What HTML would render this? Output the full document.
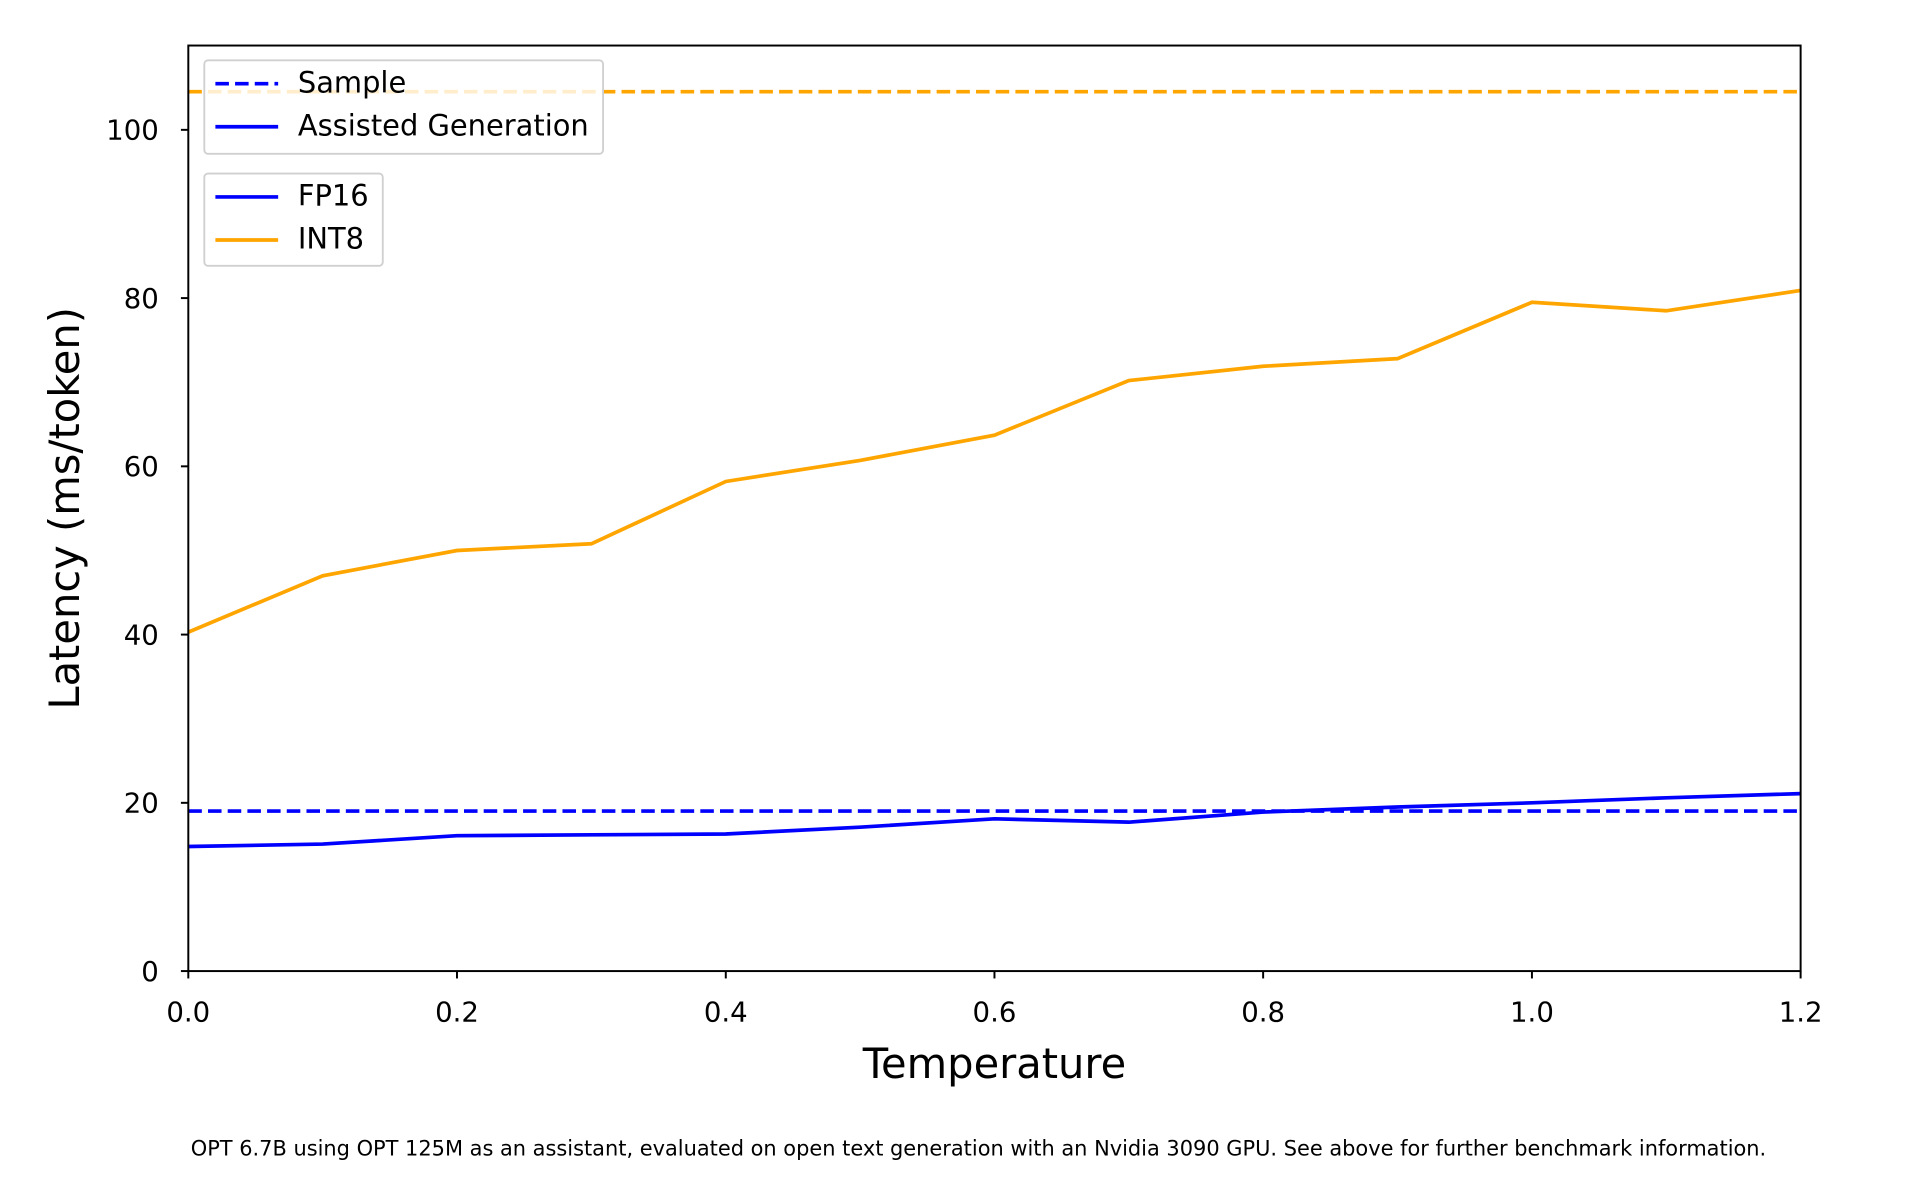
<!DOCTYPE html>
<html><head><meta charset="utf-8"><style>html,body{margin:0;padding:0;background:#fff;width:1920px;height:1200px;overflow:hidden}</style></head>
<body>
<svg width="1920" height="1200" viewBox="0 0 1560 975" xmlns="http://www.w3.org/2000/svg" font-family="'DejaVu Sans','Liberation Sans',sans-serif">
<rect width="1560" height="975" fill="#fff"/>
<defs><clipPath id="c"><rect x="153" y="37" width="1310" height="752"/></clipPath></defs>
<g clip-path="url(#c)" fill="none" stroke-width="3">
<line x1="153" y1="74.5" x2="1463" y2="74.5" stroke="#ffa500" stroke-dasharray="11,5"/>
<line x1="153" y1="659" x2="1463" y2="659" stroke="#0000ff" stroke-dasharray="11,5"/>
<polyline stroke="#0000ff" points="153,687.8 262.2,685.8 371.3,679 480.5,678.3 589.7,677.6 698.8,672.1 808,665.3 917.2,668 1026.3,659.8 1135.5,655.7 1244.7,652.3 1353.8,648.2 1463,644.8"/>
<polyline stroke="#ffa500" points="153,513.6 262.2,467.8 371.3,447.3 480.5,441.8 589.7,391.2 698.8,374.1 808,353.6 917.2,309.2 1026.3,297.6 1135.5,291.4 1244.7,245.6 1353.8,252.5 1463,236"/>
</g>
<rect x="153" y="37" width="1310" height="752" fill="none" stroke="#000" stroke-width="1.6"/>
<g stroke="#000" stroke-width="1.6">
<line x1="153" y1="789" x2="153" y2="795"/><line x1="371.3" y1="789" x2="371.3" y2="795"/><line x1="589.7" y1="789" x2="589.7" y2="795"/><line x1="808" y1="789" x2="808" y2="795"/><line x1="1026.3" y1="789" x2="1026.3" y2="795"/><line x1="1244.7" y1="789" x2="1244.7" y2="795"/><line x1="1463" y1="789" x2="1463" y2="795"/>
<line x1="147" y1="789" x2="153" y2="789"/><line x1="147" y1="652.3" x2="153" y2="652.3"/><line x1="147" y1="515.6" x2="153" y2="515.6"/><line x1="147" y1="378.9" x2="153" y2="378.9"/><line x1="147" y1="242.2" x2="153" y2="242.2"/><line x1="147" y1="105.5" x2="153" y2="105.5"/>
</g>
<g font-size="22.4" fill="#000" text-anchor="middle">
<text x="153" y="830">0.0</text><text x="371.3" y="830">0.2</text><text x="589.7" y="830">0.4</text><text x="808" y="830">0.6</text><text x="1026.3" y="830">0.8</text><text x="1244.7" y="830">1.0</text><text x="1463" y="830">1.2</text>
</g>
<g font-size="22.4" fill="#000" text-anchor="end">
<text x="129" y="797">0</text><text x="129" y="660.3">20</text><text x="129" y="523.6">40</text><text x="129" y="386.9">60</text><text x="129" y="250.2">80</text><text x="129" y="113.5">100</text>
</g>
<text x="808" y="876" font-size="33.8" text-anchor="middle">Temperature</text>
<text transform="translate(64,413) rotate(-90)" font-size="33.8" text-anchor="middle">Latency (ms/token)</text>
<text x="795" y="939" font-size="17" text-anchor="middle">OPT 6.7B using OPT 125M as an assistant, evaluated on open text generation with an Nvidia 3090 GPU. See above for further benchmark information.</text>
<rect x="166" y="49" width="324" height="76" rx="3" fill="#fff" fill-opacity="0.8" stroke="#d0d0d0" stroke-width="1.5"/>
<line x1="175" y1="68" x2="226" y2="68" stroke="#0000ff" stroke-width="3" stroke-dasharray="11,5"/>
<line x1="175" y1="103" x2="226" y2="103" stroke="#0000ff" stroke-width="3"/>
<text x="242" y="75" font-size="23.5">Sample</text>
<text x="242" y="110" font-size="23.5">Assisted Generation</text>
<rect x="166" y="141" width="145" height="75" rx="3" fill="#fff" fill-opacity="0.8" stroke="#d0d0d0" stroke-width="1.5"/>
<line x1="175" y1="160" x2="226" y2="160" stroke="#0000ff" stroke-width="3"/>
<line x1="175" y1="195" x2="226" y2="195" stroke="#ffa500" stroke-width="3"/>
<text x="242" y="167" font-size="23.5">FP16</text>
<text x="242" y="202" font-size="23.5">INT8</text>
</svg>
</body></html>
